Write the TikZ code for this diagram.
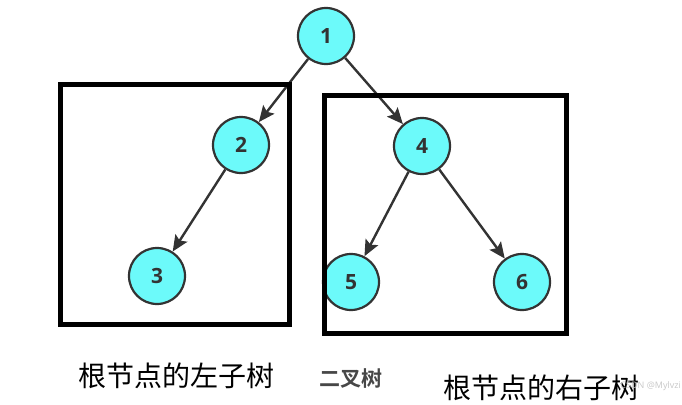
\documentclass[tikz,border=0pt]{standalone}
\usepackage{fontspec}
\setmainfont{Open Sans}[BoldFont={Open Sans Bold}]
\newfontfamily\cjk{Noto Sans CJK SC}
\newfontfamily\cjkb{Noto Sans CJK SC Bold}
\usetikzlibrary{arrows.meta}
\definecolor{nodecyan}{RGB}{108,250,250}
\definecolor{darkline}{RGB}{51,51,51}
\tikzset{
  tnode/.style={circle, draw=darkline, line width=2.2pt, fill=nodecyan, minimum size=56pt, inner sep=0pt,
    font=\fontsize{21}{24}\selectfont\bfseries, text=darkline},
  edge/.style={draw=darkline, line width=2.4pt, -{Stealth[length=16pt, width=14pt, inset=3pt]}},
  boxst/.style={draw=black, line width=5pt, inner sep=0pt},
  label/.style={font=\cjk\fontsize{28}{32}\selectfont, text=black, inner sep=0pt},
}
\begin{document}
\begin{tikzpicture}[x=1pt, y=-1pt]
\useasboundingbox (0,0) rectangle (682,404);
\node[tnode] (n1) at (326,36) {1};
\node[tnode] (n2) at (241,145) {2};
\node[tnode] (n3) at (157,276) {3};
\node[tnode] (n4) at (422,146) {4};
\node[tnode] (n5) at (351,282) {5};
\node[tnode] (n6) at (522,282) {6};
\draw[edge] (n1) -- (n2);
\draw[edge] (n1) -- (n4);
\draw[edge] (n2) -- (n3);
\draw[edge] (n4) -- (n5);
\draw[edge] (n4) -- (n6);
\node[boxst, minimum width=229pt, minimum height=240pt] (lbox) at (175,204.5) {};
\node[boxst, minimum width=242pt, minimum height=238pt] (rbox) at (445.5,214.5) {};
\node[label] (lt) at (176,376) {根节点的左子树};
\node[label] (rt) at (541,388) {根节点的右子树};
\node[font=\cjkb\fontsize{21}{24}\selectfont, text=darkline!90, inner sep=0pt] (bt) at (351,379) {二叉树};
\node[font=\fontsize{9}{11}\selectfont, text=black!22, inner sep=0pt, anchor=east] (wm) at (681,386) {CSDN @Mylvzi};
\end{tikzpicture}
\end{document}
